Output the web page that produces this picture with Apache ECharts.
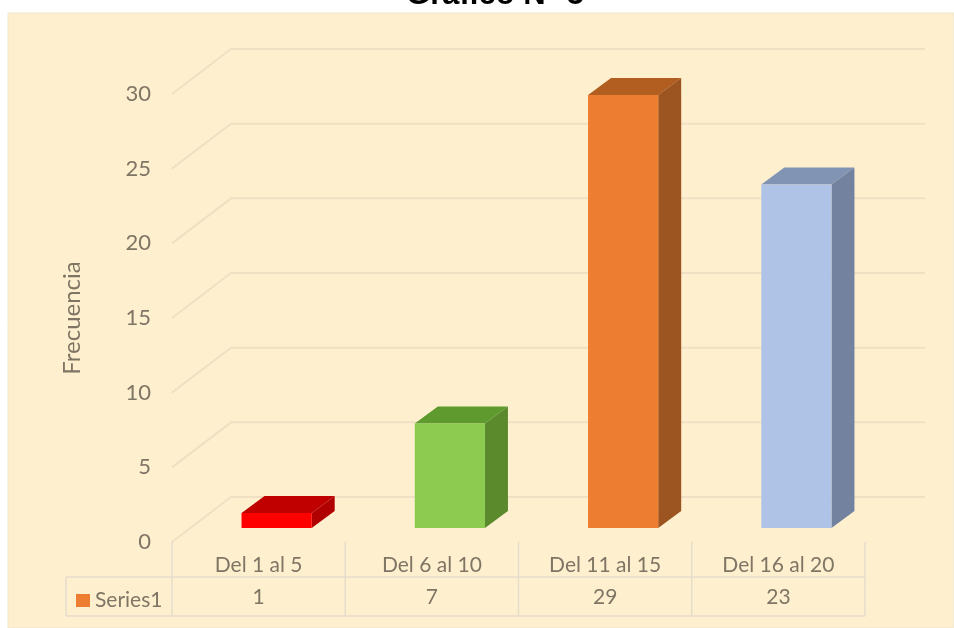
<!DOCTYPE html>
<html><head><meta charset="utf-8">
<style>html,body{margin:0;padding:0;background:#fff}#c{width:954px;height:628px}</style>
<script src="https://cdn.jsdelivr.net/npm/echarts@6/dist/echarts.min.js"></script>
</head><body><div id="c"></div>
<script>
const categories = ['Del 1 al 5','Del 6 al 10','Del 11 al 15','Del 16 al 20'];
const values = [1,7,29,23];
const yTicks = [0,5,10,15,20,25,30];
const seriesName = 'Series1';
const frontColors = ['#FF0000','#8CCB4F','#ED7D31','#AEC3E6'];
const topColors = ['#C00000','#5F9A2E','#B15E20','#8194B4'];
const sideColors = ['#B00000','#5A8A2C','#9C5520','#72829F'];
const gridColor = '#EFE0C4';
const tableColor = '#E6DCCB';
const textColor = '#7F7565';
const font = 'Lato';

const chart = echarts.init(document.getElementById('c'), null, {renderer:'canvas'});
chart.setOption({
  animation:false,
  backgroundColor:'#fff',
  title:{text:'Gráfico N° 5',left:490,textAlign:'center',top:-25,textStyle:{fontFamily:'Liberation Sans',fontWeight:'bold',fontSize:31,color:'#000'}},
  graphic:[{type:'rect',z:-10,silent:true,shape:{x:8,y:13,width:946,height:615},style:{fill:'#FEF0CF',stroke:'#EFE6CF',lineWidth:1}}],
  legend:{show:true,left:76,top:590,icon:'rect',itemWidth:14,itemHeight:13,itemGap:4,data:[seriesName],
    textStyle:{fontFamily:font,fontSize:21,color:textColor},padding:0},
  grid:{left:172,right:89,top:94,bottom:86},
  xAxis:{type:'category',data:categories,axisLine:{show:false},axisTick:{show:false},splitLine:{show:false},
    axisLabel:{margin:13,fontFamily:font,fontSize:21,color:textColor}},
  yAxis:{type:'value',min:0,max:30,interval:5,name:'Frecuencia',nameLocation:'middle',nameGap:88,nameRotate:90,
    nameTextStyle:{fontFamily:font,fontSize:24,color:textColor},
    axisLine:{show:false},axisTick:{show:false},splitLine:{show:false},
    axisLabel:{margin:21,fontFamily:font,fontSize:22,color:textColor,customValues:yTicks}},
  series:[
    {type:'custom',name:'grid',silent:true,z:1,legendHoverLink:false,
     coordinateSystem:'cartesian2d',
     data:yTicks.map(v=>[0,v]),
     encode:{x:0,y:1},
     renderItem(params,api){
       const cs=params.coordSys; const y=api.coord([0,api.value(1)])[1];
       const dx=59,dy=45,endX=925;
       return {type:'polyline',shape:{points:[[cs.x,y],[cs.x+dx,y-dy],[endX,y-dy]]},style:{fill:null,stroke:gridColor,lineWidth:2}};
     }},
    {type:'custom',name:'table',silent:true,z:1,
     coordinateSystem:'cartesian2d',
     data:categories.map((c,i)=>[i,values[i]]),
     encode:{x:0,y:1},
     renderItem(params,api){
       const i=api.value(0); const cs=params.coordSys; const band=api.size([1,0])[0];
       const cx=api.coord([i,0])[0]; const y0=cs.y+cs.height;
       const rowA=y0+35,rowB=y0+74,tableLeft=66;
       const line=(x1,y1,x2,y2)=>({type:'line',shape:{x1,y1,x2,y2},style:{stroke:tableColor,lineWidth:1.5}});
       const kids=[line(cx+band/2,y0,cx+band/2,rowB),line(cx-band/2,rowA,cx+band/2,rowA),line(cx-band/2,rowB,cx+band/2,rowB),
         {type:'text',style:{text:String(api.value(1)),x:cx,y:rowA+20,align:'center',verticalAlign:'middle',font:'21px '+font,fill:textColor}}];
       if(i===0){kids.push(line(cx-band/2,y0,cx-band/2,rowB),line(tableLeft,rowA,cx-band/2,rowA),line(tableLeft,rowB,cx-band/2,rowB),line(tableLeft,rowA,tableLeft,rowB));}
       return {type:'group',children:kids};
     }},
    {type:'custom',name:seriesName,z:3,itemStyle:{color:'#ED7D31'},
     coordinateSystem:'cartesian2d',
     data:categories.map((c,i)=>[i,values[i]]),
     encode:{x:0,y:1},
     renderItem(params,api){
       const i=api.value(0); const band=api.size([1,0])[0];
       const base=api.coord([i,0]); const top=api.coord([i,api.value(1)]);
       const w=band*0.405, cx=base[0]+18, off=14;
       const l=cx-w/2,r=cx+w/2,b=base[1]-off,t=top[1]-off,dx=23,dy=17;
       return {type:'group',children:[
         {type:'polygon',shape:{points:[[l,t],[r,t],[r+dx,t-dy],[l+dx,t-dy]]},style:{fill:topColors[i]}},
         {type:'polygon',shape:{points:[[r,t],[r+dx,t-dy],[r+dx,b-dy],[r,b]]},style:{fill:sideColors[i]}},
         {type:'rect',shape:{x:l,y:t,width:w,height:b-t},style:{fill:frontColors[i]}}
       ]};
     }}
  ]
});
</script></body></html>
